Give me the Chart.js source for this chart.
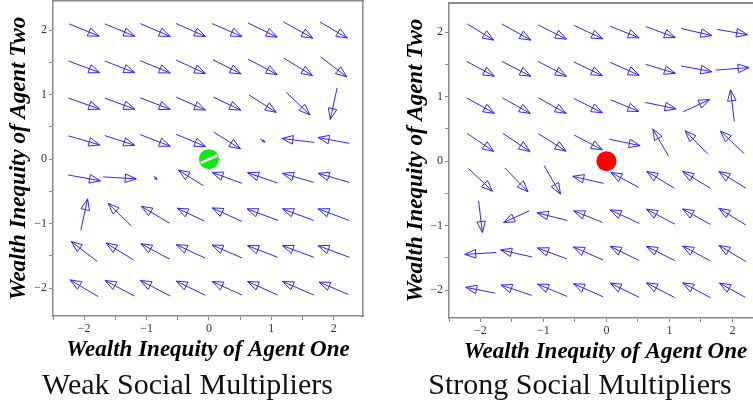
<!DOCTYPE html>
<html>
<head>
<meta charset="utf-8">
<script src="https://cdn.jsdelivr.net/npm/chart.js@4.4.1/dist/chart.umd.min.js"></script>
<style>
  html, body { margin: 0; padding: 0; background: #fff; overflow: hidden; }
  body { width: 753px; height: 409px; position: relative; }
  canvas { position: absolute; top: 0; }
  #weak { left: 0; }
  #strong { left: 380px; }
</style>
</head>
<body>
<canvas id="weak" width="375" height="409"></canvas>
<canvas id="strong" width="400" height="409"></canvas>
<script>
// Two direction fields (fieldplot style): an 8x8 grid of arrows per panel,
// a dot on the equilibrium at the origin, caption underneath.

const gridX = [-2, -1.43, -0.86, -0.29, 0.29, 0.86, 1.43, 2];
const gridY = [2, 1.43, 0.86, 0.29, -0.29, -0.86, -1.43, -2];
const tickValues = [-2, -1, 0, 1, 2];

// arrow components (data units), one row per gridY value, one column per gridX
const weakU = [
  [0.48, 0.48, 0.48, 0.47, 0.48, 0.47, 0.47, 0.44],
  [0.50, 0.48, 0.48, 0.47, 0.45, 0.47, 0.46, 0.42],
  [0.50, 0.48, 0.48, 0.47, 0.44, 0.44, 0.38, -0.11],
  [0.50, 0.48, 0.48, 0.47, 0.43, 0.08, -0.52, -0.50],
  [0.52, 0.53, 0.05, -0.40, -0.48, -0.48, -0.50, -0.50],
  [0.11, -0.37, -0.45, -0.44, -0.48, -0.50, -0.50, -0.50],
  [-0.42, -0.44, -0.46, -0.47, -0.48, -0.48, -0.50, -0.50],
  [-0.45, -0.47, -0.48, -0.47, -0.48, -0.48, -0.50, -0.47],
];
const weakV = [
  [-0.19, -0.19, -0.20, -0.20, -0.20, -0.22, -0.25, -0.25],
  [-0.18, -0.18, -0.19, -0.21, -0.22, -0.24, -0.27, -0.31],
  [-0.17, -0.17, -0.18, -0.20, -0.20, -0.27, -0.35, -0.49],
  [-0.14, -0.15, -0.18, -0.19, -0.26, -0.05, 0.06, 0.09],
  [-0.09, -0.03, -0.06, 0.24, 0.17, 0.16, 0.14, 0.14],
  [0.49, 0.35, 0.26, 0.20, 0.21, 0.18, 0.18, 0.18],
  [0.31, 0.26, 0.24, 0.21, 0.20, 0.18, 0.18, 0.18],
  [0.26, 0.24, 0.24, 0.22, 0.21, 0.21, 0.21, 0.19],
];
const strongU = [
  [0.42, 0.46, 0.45, 0.46, 0.46, 0.47, 0.49, 0.48],
  [0.44, 0.46, 0.45, 0.45, 0.46, 0.47, 0.49, 0.53],
  [0.44, 0.44, 0.44, 0.45, 0.45, 0.49, 0.42, -0.06],
  [0.42, 0.43, 0.44, 0.45, 0.49, -0.25, -0.36, -0.38],
  [0.38, 0.37, 0.26, -0.49, -0.44, -0.44, -0.44, -0.43],
  [0.06, -0.41, -0.48, -0.46, -0.46, -0.45, -0.44, -0.43],
  [-0.50, -0.50, -0.47, -0.47, -0.46, -0.45, -0.44, -0.43],
  [-0.47, -0.49, -0.47, -0.47, -0.46, -0.45, -0.44, -0.41],
];
const strongV = [
  [-0.25, -0.25, -0.22, -0.21, -0.18, -0.17, -0.11, -0.08],
  [-0.23, -0.23, -0.23, -0.21, -0.20, -0.14, -0.09, 0.04],
  [-0.24, -0.24, -0.24, -0.22, -0.18, -0.10, 0.19, 0.49],
  [-0.28, -0.28, -0.27, -0.23, -0.10, 0.42, 0.36, 0.35],
  [-0.35, -0.37, -0.44, 0.11, 0.23, 0.26, 0.26, 0.26],
  [-0.49, -0.18, 0.12, 0.18, 0.21, 0.23, 0.24, 0.26],
  [-0.03, 0.11, 0.17, 0.20, 0.22, 0.22, 0.23, 0.25],
  [0.09, 0.16, 0.19, 0.20, 0.22, 0.23, 0.23, 0.22],
];

const ARROW = "rgb(40,40,255)";
const AXIS = "#8a8a8a";
const TITLE_FONT = { family: "Liberation Serif", size: 23, style: "italic", weight: "bold" };
const TICK_FONT = { family: "Liberation Serif", size: 12 };
const CAPTION_FONT = { family: "Liberation Serif", size: 30, weight: "normal" };

function fieldPoints(U, V) {
  const pts = [];
  gridY.forEach((y, r) => gridX.forEach((x, c) => pts.push({ x, y, u: U[r][c], v: V[r][c] })));
  return pts;
}

// shaft + hollow head, centred on the grid point
const arrowPlugin = {
  id: "arrows",
  beforeDatasetsDraw(chart) {
    const { ctx } = chart;
    const sx = chart.scales.x, sy = chart.scales.y;
    const field = chart.data.datasets[0].data;
    ctx.save();
    ctx.strokeStyle = ARROW;
    ctx.lineWidth = 1;
    ctx.lineJoin = "miter";
    for (const p of field) {
      const x0 = sx.getPixelForValue(p.x - p.u / 2), y0 = sy.getPixelForValue(p.y - p.v / 2);
      const x1 = sx.getPixelForValue(p.x + p.u / 2), y1 = sy.getPixelForValue(p.y + p.v / 2);
      const len = Math.hypot(x1 - x0, y1 - y0);
      if (len < 0.5) continue;
      const dx = (x1 - x0) / len, dy = (y1 - y0) / len;
      const hl = Math.min(11, len * 0.45), hw = Math.min(4.3, len * 0.18);
      const bx = x1 - dx * hl, by = y1 - dy * hl;
      ctx.beginPath();
      ctx.moveTo(x0, y0);
      ctx.lineTo(x1, y1);
      ctx.stroke();
      ctx.beginPath();
      ctx.moveTo(x1, y1);
      ctx.lineTo(bx - dy * hw, by + dx * hw);
      ctx.lineTo(bx + dy * hw, by - dx * hw);
      ctx.closePath();
      ctx.stroke();
    }
    ctx.restore();
  }
};

function tickLabel(v) {
  if (!tickValues.includes(v)) return "";
  return v < 0 ? "\u2212" + Math.abs(v) : String(v);
}

// fixed axis sizes, and no extra room for overhanging end labels
function fixSize(prop, px) {
  return s => {
    s[prop] = px;
    s.paddingTop = s.paddingBottom = s.paddingLeft = s.paddingRight = 0;
  };
}

function makePanel(id, U, V, dots, caption, box) {
  new Chart(document.getElementById(id), {
    type: "scatter",
    data: {
      datasets: [
        { data: fieldPoints(U, V), pointRadius: 0, pointHoverRadius: 0, order: 5 },
        ...dots,
      ],
    },
    options: {
      responsive: false, animation: false, events: [],
      layout: { padding: 0, autoPadding: false },
      plugins: {
        legend: { display: false }, tooltip: { enabled: false },
        title: { display: true, position: "bottom", text: caption, font: CAPTION_FONT,
                 color: "#111", padding: { top: 0, bottom: 5 } },
      },
      scales: {
        x: {
          type: "linear", position: "bottom", min: -2.5, max: 2.47,
          afterFit: fixSize("height", box.bottom),
          ticks: { stepSize: 0.5, callback: tickLabel, font: TICK_FONT, color: "#333",
                   padding: 2, maxRotation: 0, autoSkip: false, includeBounds: false },
          grid: { drawOnChartArea: false, tickLength: 4, color: AXIS },
          border: { color: AXIS, width: 1.5 },
          title: { display: true, text: "Wealth Inequity of Agent One", font: TITLE_FONT,
                   color: "#000", padding: { top: 0, bottom: box.xTitle } },
        },
        xTop: {
          type: "linear", position: "top", min: -2.5, max: 2.5,
          afterFit: fixSize("height", box.top),
          ticks: { display: false }, grid: { display: false },
          border: { color: AXIS, width: box.topWidth },
        },
        y: {
          type: "linear", position: "left", min: -2.43, max: 2.45,
          afterFit: fixSize("width", box.left),
          ticks: { stepSize: 0.5, callback: tickLabel, font: TICK_FONT, color: "#333",
                   padding: 2, includeBounds: false },
          grid: { drawOnChartArea: false, tickLength: 4, color: AXIS },
          border: { color: AXIS, width: 1.5 },
          title: { display: true, text: "Wealth Inequity of Agent Two", font: TITLE_FONT,
                   color: "#000", padding: { top: box.yTitle, bottom: 0 } },
        },
        yRight: {
          type: "linear", position: "right", min: -2.5, max: 2.5,
          afterFit: fixSize("width", box.right),
          ticks: { display: false }, grid: { display: false },
          border: { color: AXIS, width: 1.5 },
        },
      },
    },
    plugins: [arrowPlugin],
  });
}

// lower order is painted last, so the stripe (order 0) sits on the green dot
makePanel("weak", weakU, weakV, [
  { data: [{ x: 0, y: 0 }], pointRadius: 10, backgroundColor: "#14e614", borderWidth: 0, order: 1 },
  { data: [{ x: 0, y: 0 }], pointStyle: "line", rotation: -24, pointRadius: 9,
    borderColor: "#ffffff", borderWidth: 2.5, order: 0 },
], "Weak Social Multipliers",
{ left: 53, right: 12, top: 1, bottom: 52, xTitle: 4, yTitle: 5, topWidth: 1.5 });

makePanel("strong", strongU, strongV, [
  { data: [{ x: 0, y: 0 }], pointRadius: 10, backgroundColor: "#ff0000", borderWidth: 0, order: 1 },
], "Strong Social Multipliers",
{ left: 69, right: 18, top: 3, bottom: 50, xTitle: 2, yTitle: 22, topWidth: 2 });
</script>
</body>
</html>
